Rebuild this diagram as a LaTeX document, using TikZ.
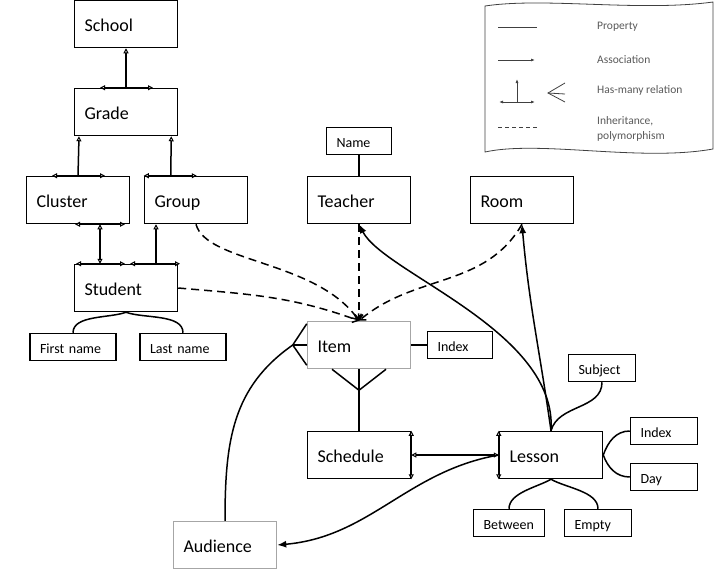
\documentclass[tikz,border=0pt]{standalone}
\usepackage{fontspec}
\setmainfont{Carlito}
\usetikzlibrary{positioning,arrows.meta}

\begin{document}
\begin{tikzpicture}[x=1pt, y=1pt, node distance=88pt]
	\tikzstyle{entity} = [rectangle, draw=black, line width=1.5pt, minimum height=47pt, text width=83pt, text height=15pt, text depth=0pt, inner xsep=10pt, align=left, font=\fontsize{18}{20}\selectfont]
	\tikzstyle{entitygray} = [entity, draw=black!35]
	\tikzstyle{attr} = [rectangle, draw=black, line width=1.5pt, minimum height=27pt, text width=46pt, text height=12pt, text depth=0pt, inner xsep=10pt, align=left, font=\fontsize{14}{16}\selectfont]
	\tikzstyle{prop} = [line width=1.5pt]
	\tikzstyle{arrow} = [line width=1.5pt, -{Latex[length=9pt,width=7pt]}]
	\tikzstyle{many} = [line width=1.5pt, {Triangle[open,length=5pt,width=5pt,line width=1pt]}-{Triangle[open,length=5pt,width=5pt,line width=1pt]}]
	\tikzstyle{toparent} = [line width=1.5pt, -{Triangle[open,length=5pt,width=5pt,line width=1pt]}]
	\tikzstyle{inherit} = [line width=1.5pt, dash pattern=on 8pt off 5pt, -{Straight Barb[length=5pt,width=8pt]}]
	\tikzstyle{legtext} = [anchor=west, inner xsep=0pt, align=left, text=black!65, font=\fontsize{11.5}{15}\selectfont]
	\tikzstyle{legline} = [line width=0.8pt, draw=black!75]
	
	\useasboundingbox (0,0) rectangle (718,-573);
	
	\node (school) [entity] at (126,-24) {School};
	\node (grade) [entity, below of=school] {Grade};
	\node (cluster) [entity, below of=grade, xshift=-48pt] {Cluster};
	\node (group) [entity, below of=grade, xshift=70pt] {Group};
	\node (student) [entity, below of=cluster, xshift=48pt] {Student};
	\node (firstname) [attr, text width=66pt, below of=student, node distance=59pt, xshift=-53pt] {First name};
	\node (lastname) [attr, text width=66pt, right of=firstname, node distance=110pt] {Last name};
	\node (teacher) [entity, right of=group, node distance=163pt] {Teacher};
	\node (name) [attr, text width=45pt, above of=teacher, node distance=59pt] {Name};
	\node (room) [entity, right of=teacher, node distance=163pt] {Room};
	\node (item) [entitygray, below of=teacher, node distance=145pt] {Item};
	\node (itemindex) [attr, text width=45pt, right of=item, node distance=101pt] {Index};
	\node (schedule) [entity, below of=item, node distance=110pt] {Schedule};
	\node (lesson) [entity, right of=schedule, node distance=192pt] {Lesson};
	\node (subject) [attr, text width=47pt, above of=lesson, node distance=87pt, xshift=51pt] {Subject};
	\node (lessonindex) [attr, text width=47pt, right of=lesson, node distance=113pt, yshift=24pt] {Index};
	\node (day) [attr, text width=47pt, right of=lesson, node distance=113pt, yshift=-22pt] {Day};
	\node (between) [attr, text width=51pt, below of=lesson, node distance=68pt, xshift=-42pt] {Between};
	\node (empty) [attr, text width=47pt, below of=lesson, node distance=68pt, xshift=47pt] {Empty};
	\node (audience) [entitygray, left of=schedule, node distance=134pt, yshift=-90pt] {Audience};
	\coordinate (itemfoot) at ([yshift=-21pt]item.south);
	\coordinate (audiencefoot) at ([xshift=-14pt]item.west);
	
	\draw [toparent] (grade.north) -- (school.south);
	\draw [many] ([xshift=-26pt]grade.north) -- ([xshift=27pt]grade.north);
	\draw [toparent] (cluster.north) -- ([xshift=-47pt]grade.south);
	\draw [many] ([xshift=-26pt]cluster.north) -- ([xshift=27pt]cluster.north);
	\draw [toparent] ([xshift=27pt]group.north west) -- ([xshift=-7pt]grade.south east);
	\draw [many] (group.north west) -- ([xshift=53pt]group.north west);
	\draw [many] ([xshift=-26pt]student.north) -- ([xshift=22pt]cluster.south);
	\draw [many] ([xshift=-3pt]cluster.south) -- ([xshift=47pt]cluster.south);
	\draw [many] ([xshift=-50pt]student.north) -- ([xshift=-1pt]student.north);
	\draw [toparent] ([xshift=30pt]student.north) -- ([xshift=-40pt]group.south);
	\draw [many] ([xshift=4pt]student.north) -- ([xshift=54pt]student.north);
	
	\draw [prop] (student.south) to[out=-160, in=90, looseness=0.8] (firstname.north);
	\draw [prop] (student.south) to[out=-20, in=90, looseness=0.8] (lastname.north);
	\draw [prop] (name) -- (teacher);
	\draw [prop] (item) -- (itemindex);
	\draw [prop] (schedule) -- (item);
	\draw [prop] ([xshift=-27pt]item.south) -- (itemfoot) -- ([xshift=27pt]item.south);
	\draw [prop] ([yshift=-3pt]item.north west) -- (audiencefoot) -- ([yshift=4pt]item.south west);
	\draw [prop] (audiencefoot) -- (item.west);
	\draw [prop] (audience.north) to[out=90, in=-145, out distance=80pt] (audiencefoot);
	\draw [prop] (lesson.north) to[out=75, in=-90] (subject.south);
	\draw [prop] (lesson.east) to[out=70, in=180] (lessonindex.west);
	\draw [prop] (lesson.east) to[out=-70, in=180] (day.west);
	\draw [prop] (lesson.south) to[out=-150, in=90, looseness=0.8] (between.north);
	\draw [prop] (lesson.south) to[out=-30, in=90, looseness=0.8] (empty.north);
	
	\draw [many] (schedule.east) -- (lesson.west);
	\draw [many] (schedule.north east) -- (schedule.south east);
	\draw [many] (lesson.north west) -- (lesson.south west);
	
	\draw [arrow] (lesson.north) to[out=86, in=-63, out distance=100pt, in distance=55pt] (teacher.south);
	\draw [arrow] (lesson.north) to[out=98, in=-85] (room.south);
	\draw [arrow] (lesson.west) to[out=190, in=5] (audience.east);
	
	\draw [inherit] (group.south) to[out=-75, in=125, out distance=40pt] (item.north);
	\draw [inherit] (student.east) to[out=-5, in=160] (item.north);
	\draw [inherit] (teacher) -- (item);
	\draw [inherit] (room.south) to[out=-120, in=40] (item.north);
	
	\draw [legline] (485,-6) .. controls (545,3) and (640,-12) .. (713,-2) -- (713,-149) .. controls (640,-162) and (540,-140) .. (485,-152) -- cycle;
	\node (lprop) [legtext] at (597,-27) {Property};
	\node (lassoc) [legtext] at (597,-60) {Association};
	\node (lmany) [legtext] at (597,-90) {Has-many relation};
	\node (linherit) [legtext] at (597,-129) {Inheritance,\\polymorphism};
	\draw [legline] ([xshift=-99pt]lprop.west) -- ([xshift=-60pt]lprop.west);
	\draw [legline, -{Latex[length=4pt,width=3pt]}] ([xshift=-99pt]lassoc.west) -- ([xshift=-62pt]lassoc.west);
	\draw [legline, {Latex[length=4pt,width=3pt]}-{Latex[length=4pt,width=3pt]}] ([xshift=-98pt, yshift=-12pt]lmany.west) -- ([xshift=-62pt, yshift=-12pt]lmany.west);
	\draw [legline, -{Latex[length=4pt,width=3pt]}] ([xshift=-80pt, yshift=-12pt]lmany.west) -- ([xshift=-80pt, yshift=11pt]lmany.west);
	\draw [legline] ([xshift=-32pt, yshift=7pt]lmany.west) -- ([xshift=-49pt, yshift=-3pt]lmany.west) -- ([xshift=-32pt, yshift=-12pt]lmany.west);
	\draw [legline] ([xshift=-49pt, yshift=-3pt]lmany.west) -- ([xshift=-32pt, yshift=-4pt]lmany.west);
	\draw [legline, dash pattern=on 4pt off 3pt] ([xshift=-99pt, yshift=2pt]linherit.west) -- ([xshift=-60pt, yshift=2pt]linherit.west);
\end{tikzpicture}
\end{document}
